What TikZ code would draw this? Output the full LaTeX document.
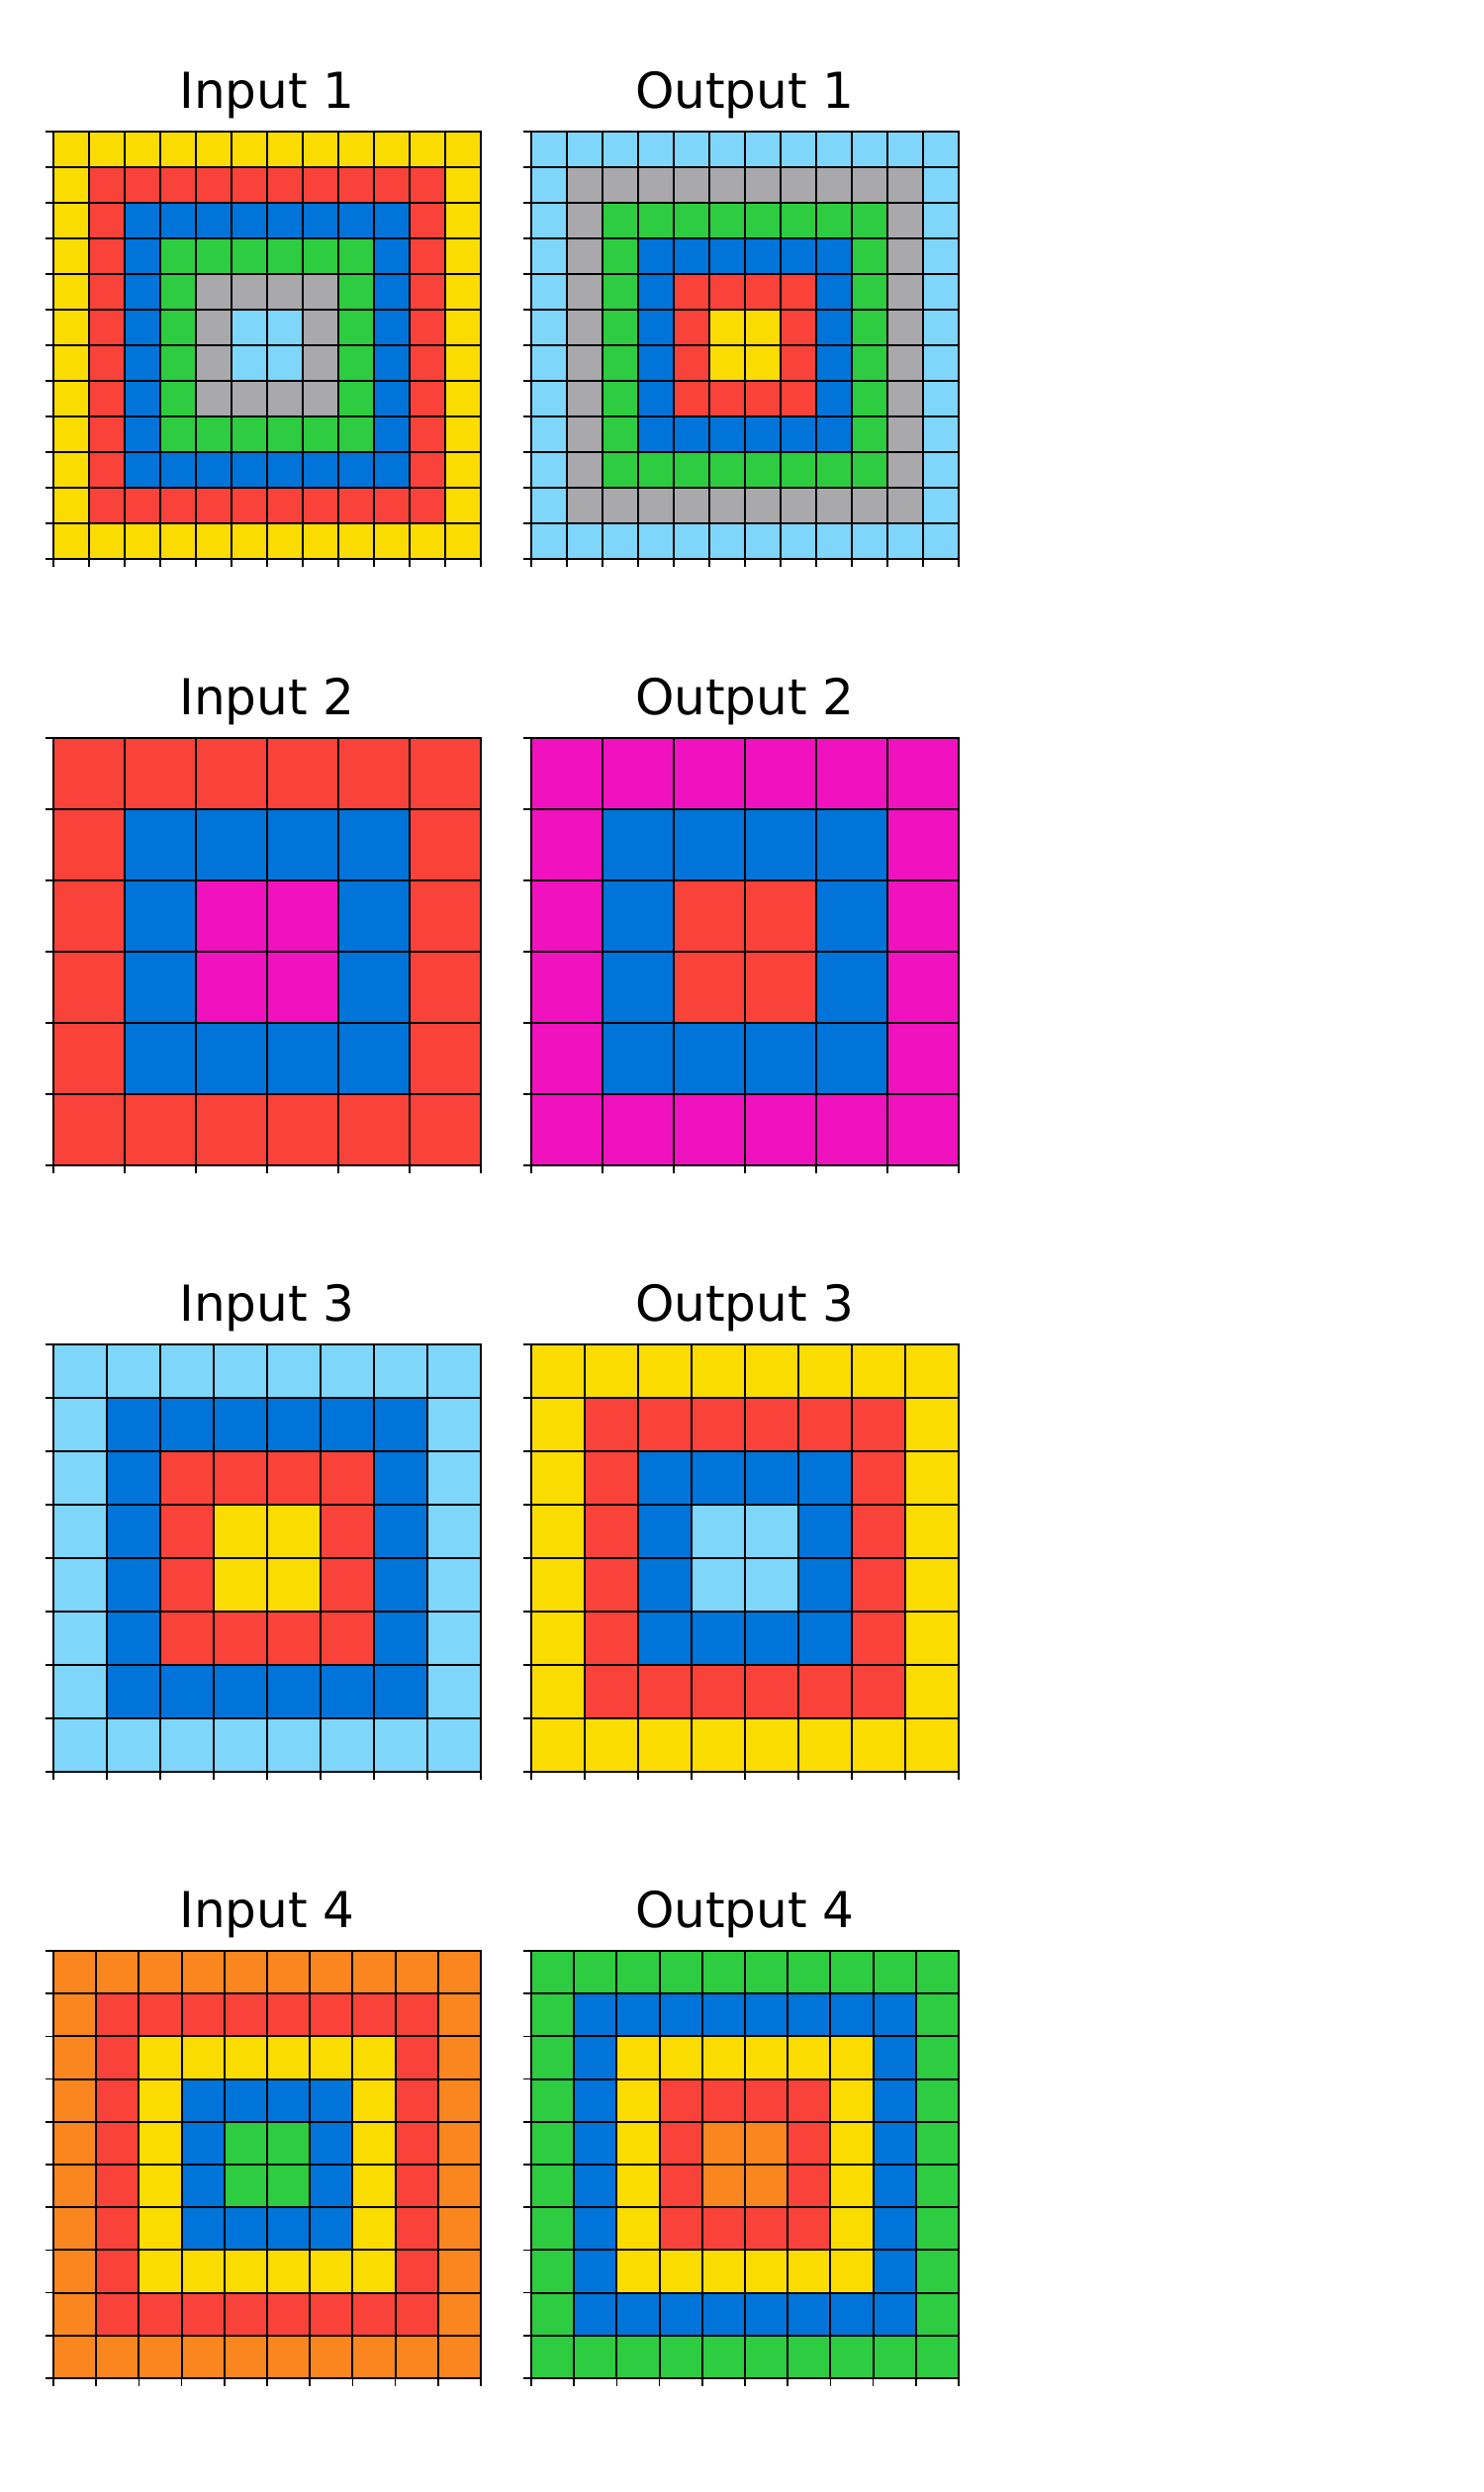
\documentclass[tikz,border=0pt]{standalone}
\usepackage{fontspec}
\setmainfont{DejaVu Sans}
\usetikzlibrary{positioning}

\definecolor{arcblue}{HTML}{0074D9}
\definecolor{arcred}{HTML}{F94239}
\definecolor{arcgreen}{HTML}{2ECC40}
\definecolor{arcyellow}{HTML}{FADC00}
\definecolor{arcgrey}{HTML}{A9A8AB}
\definecolor{arcmagenta}{HTML}{F012BE}
\definecolor{arcorange}{HTML}{FA8620}
\definecolor{arcsky}{HTML}{7FD6FB}

% one square grid: left x, top y, cells per side, rings from outside in
\newcommand{\ringgrid}[4]{%
  \pgfmathsetmacro{\cellsz}{432/#3}
  \foreach \col [count=\k from 0] in {#4} {
    \fill[\col] ({#1+\k*\cellsz},{#2+\k*\cellsz}) rectangle ({#1+432-\k*\cellsz},{#2+432-\k*\cellsz});
  }
  \foreach \i in {0,...,#3} {
    \draw[gridline] ({#1+\i*\cellsz},#2) -- ({#1+\i*\cellsz},{#2+432});
    \draw[gridline] (#1,{#2+\i*\cellsz}) -- ({#1+432},{#2+\i*\cellsz});
    \draw[tickmark] (#1,{#2+\i*\cellsz}) -- ++(-8,0);
    \draw[tickmark] ({#1+\i*\cellsz},{#2+432}) -- ++(0,8);
  }
  \draw[spine] (#1,#2) rectangle ({#1+432},{#2+432});
}

\begin{document}
\begin{tikzpicture}[
    x=0.02cm, y=-0.02cm,
    gridline/.style={black, line width=1.1pt},
    spine/.style={black, line width=1.5pt},
    tickmark/.style={black, line width=0.9pt},
    title/.style={anchor=base, inner sep=0pt, font=\fontsize{28.5}{34}\selectfont}
  ]
  \useasboundingbox (0,0) rectangle (1500,2519);

  % pair 1
  \node[title] (in1) at (270,109) {Input 1};
  \node[title] (out1) at (753,109) {Output 1};
  \ringgrid{54}{133}{12}{arcyellow,arcred,arcblue,arcgreen,arcgrey,arcsky}
  \ringgrid{537}{133}{12}{arcsky,arcgrey,arcgreen,arcblue,arcred,arcyellow}

  % pair 2
  \node[title] (in2) at (270,722) {Input 2};
  \node[title] (out2) at (753,722) {Output 2};
  \ringgrid{54}{746}{6}{arcred,arcblue,arcmagenta}
  \ringgrid{537}{746}{6}{arcmagenta,arcblue,arcred}

  % pair 3
  \node[title] (in3) at (270,1335) {Input 3};
  \node[title] (out3) at (753,1335) {Output 3};
  \ringgrid{54}{1359}{8}{arcsky,arcblue,arcred,arcyellow}
  \ringgrid{537}{1359}{8}{arcyellow,arcred,arcblue,arcsky}

  % pair 4
  \node[title] (in4) at (270,1948) {Input 4};
  \node[title] (out4) at (753,1948) {Output 4};
  \ringgrid{54}{1972}{10}{arcorange,arcred,arcyellow,arcblue,arcgreen}
  \ringgrid{537}{1972}{10}{arcgreen,arcblue,arcyellow,arcred,arcorange}

\end{tikzpicture}
\end{document}
